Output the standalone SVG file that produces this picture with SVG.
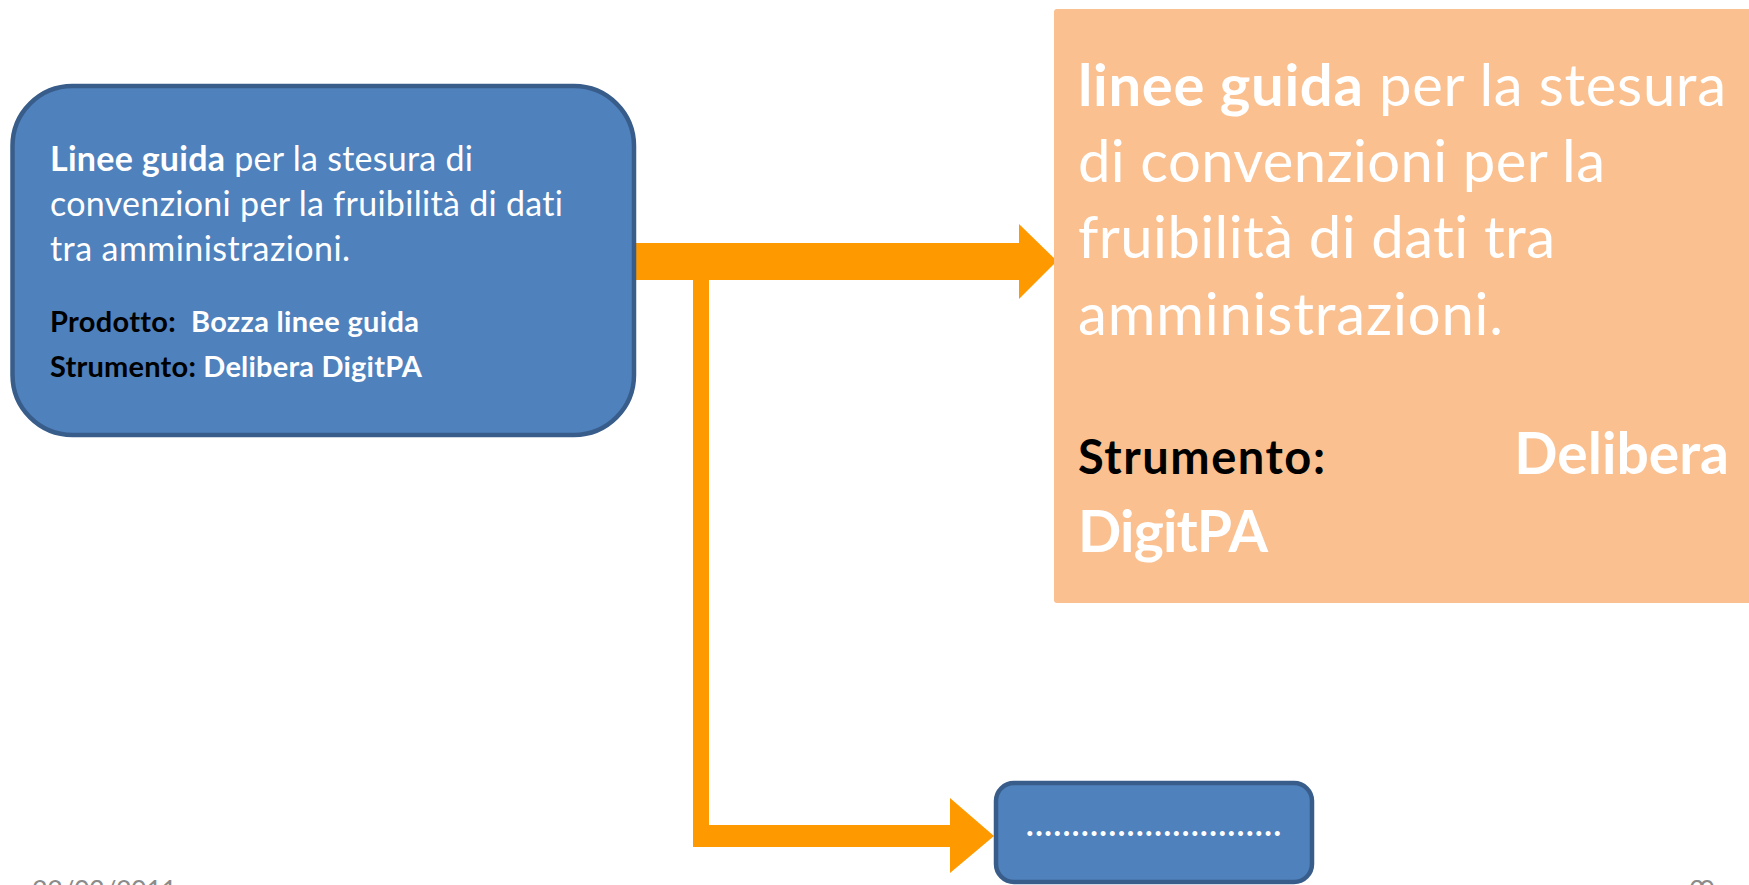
<svg xmlns="http://www.w3.org/2000/svg" width="1749" height="885" viewBox="0 0 1749 885">
<style>
  .blue { fill:#4F81BD; stroke:#385D8A; stroke-width:4.5; }
  .peach { fill:#FAC090; }
  .arrow { fill:#FF9900; }
  .t { font-family:Lato, "Open Sans", "Liberation Sans", sans-serif; fill:#FFFFFF; font-variant-ligatures:none; }
  .b { font-weight:bold; }
  .k { fill:#000000; }
  .foot { font-family:Lato, "Liberation Sans", sans-serif; font-size:27px; fill:#8B8B8B; }
</style>
<rect width="1749" height="885" fill="#FFFFFF"/>

<g id="connectors">
  <path class="arrow" d="M633,243 L1019,243 L1019,224 L1057,261 L1019,299 L1019,280 L633,280 Z"/>
  <path class="arrow" d="M693,279 L709,279 L709,825 L950,825 L950,798 L994,836 L950,873 L950,847 L693,847 Z"/>
</g>

<g id="node-main">
  <rect class="blue" x="12.5" y="86" width="621.5" height="349" rx="60" ry="60"/>
  <g class="t" font-size="34">
    <text x="50" y="171" textLength="423"><tspan class="b">Linee guida</tspan> per la stesura di</text>
    <text x="50" y="216" textLength="513">convenzioni per la fruibilità di dati</text>
    <text x="50" y="261" textLength="300">tra amministrazioni.</text>
  </g>
  <g class="t b" font-size="29">
    <text x="50" y="332" textLength="369"><tspan class="k">Prodotto:</tspan>&#160; Bozza linee guida</text>
    <text x="50" y="377" textLength="372"><tspan class="k">Strumento:</tspan> Delibera DigitPA</text>
  </g>
</g>

<g id="node-result">
  <rect class="peach" x="1054" y="9" width="700" height="594" rx="3" ry="3"/>
  <g class="t" font-size="58">
    <text x="1078" y="106" textLength="648"><tspan class="b">linee guida</tspan> per la stesura</text>
    <text x="1078" y="182" textLength="527">di convenzioni per la</text>
    <text x="1078" y="258" textLength="477">fruibilità di dati tra</text>
    <text x="1078" y="335" textLength="425">amministrazioni.</text>
  </g>
  <text class="t b k" x="1078" y="474" font-size="47" textLength="247">Strumento:</text>
  <text class="t b" x="1729" y="474" font-size="57" text-anchor="end">Delibera</text>
  <text class="t b" x="1078" y="552" font-size="57" textLength="190">DigitPA</text>
</g>

<g id="node-next">
  <rect class="blue" x="996" y="783" width="316" height="99" rx="18" ry="18"/>
  <text class="t b" x="1026" y="836" font-size="32" textLength="255">............................</text>
</g>

<g id="footer">
  <text class="foot" x="32" y="900" textLength="145">22/03/2011</text>
  <text class="foot" x="1689" y="900" textLength="26">30</text>
</g>
</svg>
